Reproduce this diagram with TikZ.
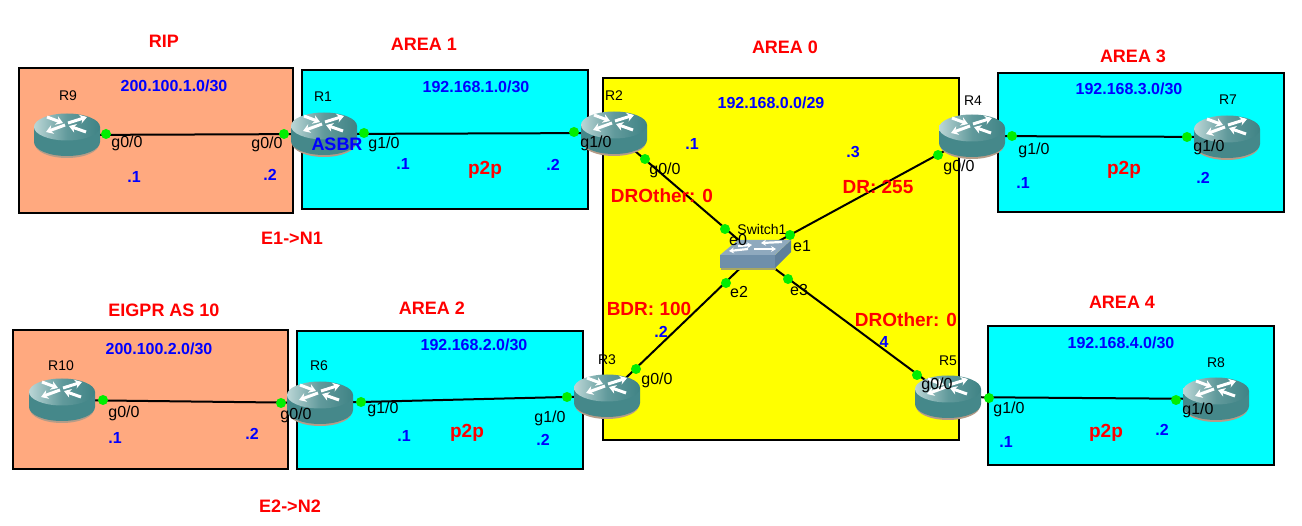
\documentclass[tikz,border=0pt]{standalone}
\usepackage{fontspec}
\setmainfont{Liberation Sans}
\usetikzlibrary{arrows.meta}
\definecolor{salmonbox}{HTML}{FFA97F}
\definecolor{cyanbox}{HTML}{00FFFF}
\definecolor{yellowbox}{HTML}{FFFF00}
\definecolor{portgreen}{HTML}{00EE00}
\definecolor{routerbody}{HTML}{45888A}
\definecolor{routerlight}{HTML}{BBD6D6}
\definecolor{routerdark}{HTML}{3F8385}
\definecolor{routershadow}{HTML}{B59C88}
\definecolor{swside}{HTML}{5F7F9A}
\definecolor{swfront}{HTML}{6F8FAA}
\definecolor{swtop}{HTML}{8FA9BE}
\definecolor{swshadow}{HTML}{A8A860}
\tikzset{
  x=1pt,y=-1pt,
  areabox/.style={draw=black,line width=2pt},
  linkline/.style={draw=black,line width=2pt},
  portdot/.style={circle,fill=portgreen,draw=none,minimum size=10pt,inner sep=0pt},
  anchorpt/.style={inner sep=0pt,minimum size=0pt},
  redlabel/.style={text=red,font=\bfseries\fontsize{18}{20}\selectfont,inner sep=0pt},
  bluelabel/.style={text=blue,font=\bfseries\fontsize{16}{18}\selectfont,inner sep=0pt},
  bigred/.style={text=red,font=\bfseries\fontsize{19}{21}\selectfont,inner sep=0pt},
  devlabel/.style={text=black,font=\fontsize{14}{16}\selectfont,inner sep=0pt},
  portlabel/.style={text=black,font=\fontsize{16}{18}\selectfont,inner sep=0pt},
  routerarrow/.style={draw=white,line width=3pt,-{Stealth[length=7pt,width=9pt]}},
  swarrow/.style={draw=white,line width=2.2pt,-{Stealth[length=5pt,width=6pt]}},
  routerpic/.pic={
    \fill[routershadow] (-32,9) arc[start angle=180,end angle=360,x radius=32pt,y radius=14pt] -- cycle;
    \fill[routerbody] (-33,-8) -- (-33,7) arc[start angle=180,end angle=360,x radius=33pt,y radius=14pt] -- (33,-8) -- cycle;
    \shade[left color=routerlight,right color=routerdark,middle color=routerbody!85!white] (0,-8) ellipse[x radius=33pt,y radius=13.5pt];
    \draw[routerarrow] (-20,-18) -- (-4,-12);
    \draw[routerarrow] (1,-12) -- (20,-18);
    \draw[routerarrow] (-2,-10) -- (-21,-3);
    \draw[routerarrow] (19,-3) -- (2,-9);
  }
}
\begin{document}
\begin{tikzpicture}
\useasboundingbox (0,0) rectangle (1302,526);
\fill[white] (0,0) rectangle (1302,526);
% areas
\draw[areabox,fill=salmonbox] (19,68) rectangle (293,213);
\draw[areabox,fill=cyanbox] (302,70) rectangle (588,209);
\draw[areabox,fill=yellowbox] (603,78) rectangle (959,440);
\draw[areabox,fill=cyanbox] (998,73) rectangle (1284,212);
\draw[areabox,fill=cyanbox] (988,326) rectangle (1274,465);
\draw[areabox,fill=cyanbox] (297,331) rectangle (583,469);
\draw[areabox,fill=salmonbox] (13,330) rectangle (288,469);
% device anchors
\node[anchorpt] (R9) at (67,135) {};
\node[anchorpt] (R1) at (324,134) {};
\node[anchorpt] (R2) at (614,133) {};
\node[anchorpt] (R3) at (607,396) {};
\node[anchorpt] (R4) at (972,136) {};
\node[anchorpt] (R7) at (1227,137) {};
\node[anchorpt] (R5) at (948,397) {};
\node[anchorpt] (R8) at (1216,399) {};
\node[anchorpt] (R6) at (320,403) {};
\node[anchorpt] (R10) at (62,400) {};
\node[anchorpt] (SW) at (755,254) {};
% links
\draw[linkline] (R9) -- (R1);
\draw[linkline] (R1) -- (R2);
\draw[linkline] (R2) -- (SW);
\draw[linkline] (R4) -- (SW);
\draw[linkline] (R3) -- (SW);
\draw[linkline] (R5) -- (SW);
\draw[linkline] (R4) -- (R7);
\draw[linkline] (R5) -- (R8);
\draw[linkline] (R6) -- (R3);
\draw[linkline] (R10) -- (R6);
% routers
\foreach \r in {R9,R1,R2,R3,R4,R7,R5,R8,R6,R10} { \pic at (\r) {routerpic}; }
% switch
\fill[swshadow] (721,259) -- (776,259) -- (776,270) -- (721,270) -- cycle;
\fill[swside] (775,255) -- (791,240) -- (791,252) -- (775,268) -- cycle;
\fill[swfront] (720,255) -- (775,255) -- (775,268) -- (720,268) -- cycle;
\fill[swtop] (720,255) -- (738,240) -- (791,240) -- (775,255) -- cycle;
\draw[swarrow] (738,246) -- (752,245);
\draw[swarrow] (782,242) -- (761,243);
\draw[swarrow] (748,249) -- (729,251);
\draw[swarrow] (754,249) -- (776,249);
% port dots
\node[portdot] (p1) at (106,134) {};
\node[portdot] (p2) at (284,134) {};
\node[portdot] (p3) at (364,133) {};
\node[portdot] (p4) at (574,132) {};
\node[portdot] (p5) at (645,159) {};
\node[portdot] (p6) at (725,229) {};
\node[portdot] (p7) at (790,235) {};
\node[portdot] (p8) at (938,155) {};
\node[portdot] (p9) at (726,283) {};
\node[portdot] (p10) at (636,369) {};
\node[portdot] (p11) at (788,279) {};
\node[portdot] (p12) at (917,375) {};
\node[portdot] (p13) at (1012,136) {};
\node[portdot] (p14) at (1187,137) {};
\node[portdot] (p15) at (989,398) {};
\node[portdot] (p16) at (1176,400) {};
\node[portdot] (p17) at (361,402) {};
\node[portdot] (p18) at (567,397) {};
\node[portdot] (p19) at (103,400) {};
\node[portdot] (p20) at (281,403) {};
% area titles
\node[redlabel] (a1) at (164,41) {RIP};
\node[redlabel] (a2) at (424,44) {AREA 1};
\node[redlabel] (a3) at (785,47) {AREA 0};
\node[redlabel] (a4) at (1133,56) {AREA 3};
\node[redlabel] (a5) at (164,310) {EIGPR AS 10};
\node[redlabel] (a6) at (432,308) {AREA 2};
\node[redlabel] (a7) at (1122,302) {AREA 4};
\node[redlabel] (a8) at (292,238) {E1->N1};
\node[redlabel] (a9) at (290,506) {E2->N2};
% subnets
\node[bluelabel] (b1) at (174,86) {200.100.1.0/30};
\node[bluelabel] (b2) at (476,87) {192.168.1.0/30};
\node[bluelabel] (b3) at (771,103) {192.168.0.0/29};
\node[bluelabel] (b4) at (1129,89) {192.168.3.0/30};
\node[bluelabel] (b5) at (159,349) {200.100.2.0/30};
\node[bluelabel] (b6) at (474,345) {192.168.2.0/30};
\node[bluelabel] (b7) at (1121,343) {192.168.4.0/30};
% host addresses
\node[bluelabel] (c1) at (134,177) {.1};
\node[bluelabel] (c2) at (270,175) {.2};
\node[bluelabel,font=\bfseries\fontsize{18}{20}\selectfont] (c3) at (337,144) {ASBR};
\node[bluelabel] (c4) at (403,164) {.1};
\node[bluelabel] (c5) at (553,165) {.2};
\node[bluelabel] (c6) at (692,144) {.1};
\node[bluelabel] (c7) at (853,152) {.3};
\node[bluelabel] (c8) at (1023,183) {.1};
\node[bluelabel] (c9) at (1203,178) {.2};
\node[bluelabel] (c10) at (661,332) {.2};
\node[bluelabel] (c11) at (884,342) {4};
\node[bluelabel] (c12) at (115,438) {.1};
\node[bluelabel] (c13) at (252,434) {.2};
\node[bluelabel] (c14) at (404,436) {.1};
\node[bluelabel] (c15) at (543,440) {.2};
\node[bluelabel] (c16) at (1006,442) {.1};
\node[bluelabel] (c17) at (1162,430) {.2};
% red notes
\node[bigred] (d1) at (485,170) {p2p};
\node[bigred] (d2) at (467,433) {p2p};
\node[bigred] (d3) at (1124,170) {p2p};
\node[bigred] (d4) at (1106,433) {p2p};
\node[bigred] (d5) at (662,196) {DROther: 0};
\node[bigred] (d6) at (878,187) {DR: 255};
\node[bigred] (d7) at (649,309) {BDR: 100};
\node[bigred] (d8) at (906,320) {DROther: 0};
% device names
\node[devlabel] (e1) at (68,96) {R9};
\node[devlabel] (e2) at (323,97) {R1};
\node[devlabel] (e3) at (614,96) {R2};
\node[devlabel] (e4) at (607,360) {R3};
\node[devlabel] (e5) at (973,101) {R4};
\node[devlabel] (e6) at (1228,100) {R7};
\node[devlabel] (e7) at (948,361) {R5};
\node[devlabel] (e8) at (1216,363) {R8};
\node[devlabel] (e9) at (319,366) {R6};
\node[devlabel] (e10) at (61,366) {R10};
\node[devlabel] (e11) at (762,229) {Switch1};
% port names
\node[portlabel] (f1) at (127,143) {g0/0};
\node[portlabel] (f2) at (267,144) {g0/0};
\node[portlabel] (f3) at (384,144) {g1/0};
\node[portlabel] (f4) at (596,143) {g1/0};
\node[portlabel] (f5) at (665,170) {g0/0};
\node[portlabel] (f6) at (959,167) {g0/0};
\node[portlabel] (f7) at (1034,150) {g1/0};
\node[portlabel] (f8) at (1209,147) {g1/0};
\node[portlabel] (f9) at (738,240) {e0};
\node[portlabel] (f10) at (802,246) {e1};
\node[portlabel] (f11) at (739,292) {e2};
\node[portlabel] (f12) at (799,290) {e3};
\node[portlabel] (f13) at (657,380) {g0/0};
\node[portlabel] (f14) at (550,418) {g1/0};
\node[portlabel] (f15) at (296,415) {g0/0};
\node[portlabel] (f16) at (383,409) {g1/0};
\node[portlabel] (f17) at (937,385) {g0/0};
\node[portlabel] (f18) at (1009,409) {g1/0};
\node[portlabel] (f19) at (1198,410) {g1/0};
\node[portlabel] (f20) at (124,413) {g0/0};
\end{tikzpicture}
\end{document}
